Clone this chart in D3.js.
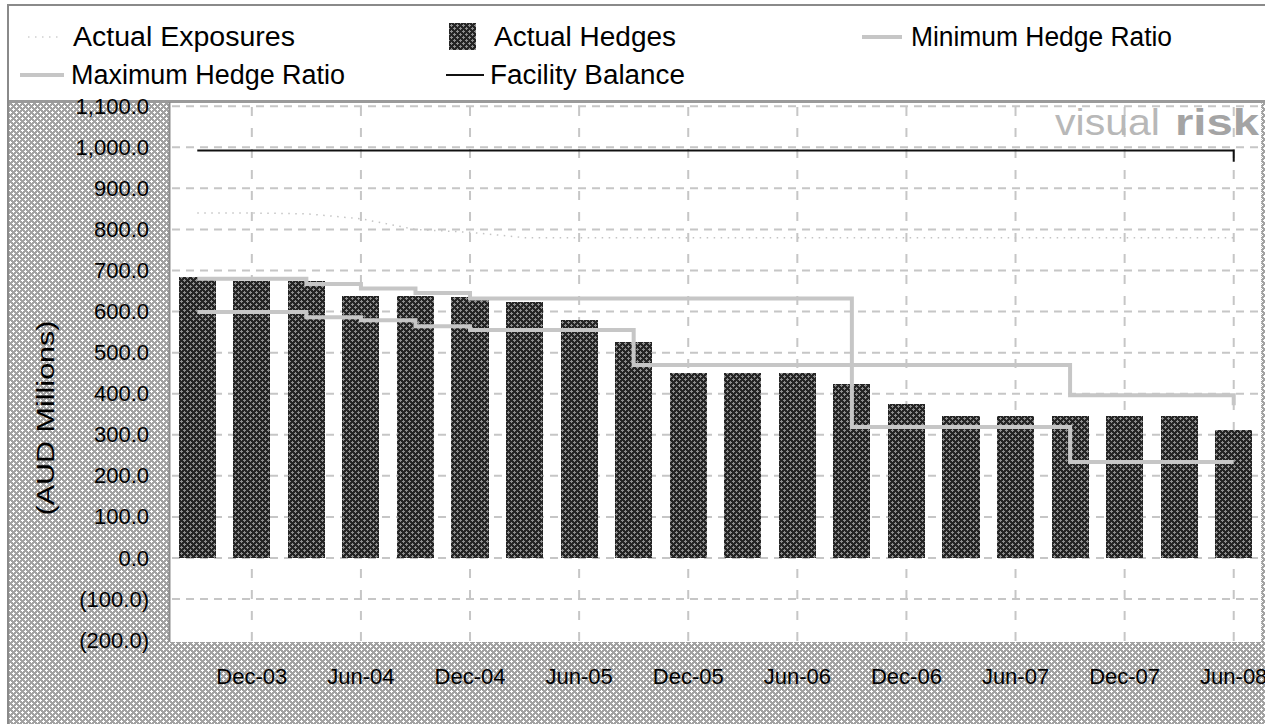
<!DOCTYPE html>
<html>
<head>
<meta charset="utf-8">
<script src="https://cdn.jsdelivr.net/npm/d3@7"></script>
<style>
  html, body { margin: 0; padding: 0; background: #fff; }
  svg { display: block; font-family: "Liberation Sans", Arial, sans-serif; }
</style>
</head>
<body>
<svg id="chart" width="1265" height="724"></svg>
<script>
// Quarterly periods, Sep-03 .. Jun-08
const quarters = ["Sep-03","Dec-03","Mar-04","Jun-04","Sep-04","Dec-04","Mar-05","Jun-05",
  "Sep-05","Dec-05","Mar-06","Jun-06","Sep-06","Dec-06","Mar-07","Jun-07",
  "Sep-07","Dec-07","Mar-08","Jun-08"];

// AUD millions
const actualHedges      = [685, 675, 675, 637, 637, 635, 624, 579, 527, 450, 450, 450, 423, 374, 346, 346, 346, 346, 346, 311];
const actualExposures   = [840, 840, 838, 826, 800, 793, 780, 780, 780, 780, 780, 780, 780, 780, 780, 780, 780, 780, 780, 780];
const maximumHedgeRatio = [680, 680, 667, 656, 645, 632, 632, 632, 632, 632, 632, 632, 319, 319, 319, 319, 234, 234, 234, 234];
const minimumHedgeRatio = [599, 599, 586, 579, 564, 555, 555, 555, 470, 470, 470, 470, 470, 470, 470, 470, 396, 396, 396, 372];
const facilityBalance   = [992, 992, 992, 992, 992, 992, 992, 992, 992, 992, 992, 992, 992, 992, 992, 992, 992, 992, 992, 965];

const yTicks = [-200, -100, 0, 100, 200, 300, 400, 500, 600, 700, 800, 900, 1000, 1100];
const xTickLabels = ["Dec-03","Jun-04","Dec-04","Jun-05","Dec-05","Jun-06","Dec-06","Jun-07","Dec-07","Jun-08"];

const svg = d3.select("#chart");
const W = 1265, H = 724;
const plot = { left: 170, right: 1261, top: 103, bottom: 642 };

// ---- patterns -------------------------------------------------------------
const defs = svg.append("defs");

function crossPattern(id, base, ink) {
  const p = defs.append("pattern").attr("id", id)
    .attr("patternUnits", "userSpaceOnUse").attr("width", 6).attr("height", 6);
  p.append("rect").attr("width", 6).attr("height", 6).attr("fill", base);
  const pts = [[1,0],[0,1],[1,1],[2,1],[1,2],[4,3],[3,4],[4,4],[5,4],[4,5]];
  pts.forEach(([px, py]) => p.append("rect").attr("x", px).attr("y", py)
    .attr("width", 1).attr("height", 1).attr("fill", ink));
}
crossPattern("frameFill", "#a2a2a2", "#ffffff");
crossPattern("barFill", "#252525", "#8e8e8e");

// ---- frame ----------------------------------------------------------------
svg.append("rect").attr("width", W).attr("height", H).attr("fill", "#fff");
svg.append("rect").attr("x", 9).attr("y", 102).attr("width", W - 9).attr("height", H - 102)
  .attr("fill", "url(#frameFill)").attr("shape-rendering", "crispEdges");
svg.append("rect").attr("x", plot.left).attr("y", plot.top)
  .attr("width", plot.right - plot.left).attr("height", plot.bottom - plot.top)
  .attr("fill", "#fff");

svg.append("line").attr("x1", 8).attr("x2", 8).attr("y1", 4).attr("y2", H)
  .attr("stroke", "#8a8a8a").attr("stroke-width", 2);
svg.append("line").attr("x1", 8).attr("x2", W).attr("y1", 5).attr("y2", 5)
  .attr("stroke", "#8a8a8a").attr("stroke-width", 2);
svg.append("line").attr("x1", 9).attr("x2", W).attr("y1", 101.5).attr("y2", 101.5)
  .attr("stroke", "#9a9a9a").attr("stroke-width", 3);
svg.append("line").attr("x1", 169.5).attr("x2", 169.5).attr("y1", 102).attr("y2", plot.bottom)
  .attr("stroke", "#8c8c8c").attr("stroke-width", 2);
svg.append("line").attr("x1", plot.right + 0.5).attr("x2", plot.right + 0.5)
  .attr("y1", plot.top).attr("y2", plot.bottom)
  .attr("stroke", "#c8c8c8").attr("stroke-width", 1).attr("stroke-dasharray", "1,2");

// ---- scales ---------------------------------------------------------------
const y = d3.scaleLinear().domain([0, 1000]).range([558, 147.3]);
const x = d3.scaleBand().domain(quarters).range([plot.left, plot.right])
  .paddingInner(0.32).paddingOuter(0.16);
const cx = q => x(q) + x.bandwidth() / 2;
const tickQuarters = quarters.filter(q => xTickLabels.includes(q));

// ---- grid -----------------------------------------------------------------
const grid = svg.append("g");
grid.selectAll("line.h").data(yTicks.filter(v => v > -200)).join("line")
  .attr("x1", plot.left + 2).attr("x2", plot.right)
  .attr("y1", d => y(d)).attr("y2", d => y(d))
  .attr("stroke", "#c6c6c6").attr("stroke-width", 2).attr("stroke-dasharray", "8,6");
grid.selectAll("line.v").data(tickQuarters).join("line")
  .attr("x1", d => cx(d)).attr("x2", d => cx(d))
  .attr("y1", plot.top + 4).attr("y2", plot.bottom)
  .attr("stroke", "#c6c6c6").attr("stroke-width", 2).attr("stroke-dasharray", "9,12");

// ---- logo -----------------------------------------------------------------
const logo = svg.append("g").attr("font-size", 36);
logo.append("text").attr("x", 1055).attr("y", 135).attr("fill", "#b8b8b8")
  .attr("textLength", 105).attr("lengthAdjust", "spacingAndGlyphs").text("visual");
logo.append("text").attr("x", 1175).attr("y", 135).attr("fill", "#a4a4a4").attr("font-weight", "bold")
  .attr("textLength", 84).attr("lengthAdjust", "spacingAndGlyphs").text("risk");

// ---- bars -----------------------------------------------------------------
svg.append("g").selectAll("rect").data(quarters).join("rect")
  .attr("x", d => x(d)).attr("width", x.bandwidth())
  .attr("y", (d, i) => y(actualHedges[i]))
  .attr("height", (d, i) => y(0) - y(actualHedges[i]))
  .attr("fill", "url(#barFill)").attr("shape-rendering", "crispEdges");

// ---- lines ----------------------------------------------------------------
const stepLine = d3.line().x(d => cx(d.q)).y(d => y(d.v)).curve(d3.curveStepAfter);
const straightLine = d3.line().x(d => cx(d.q)).y(d => y(d.v));
const pairs = arr => quarters.map((q, i) => ({ q, v: arr[i] }));

svg.append("path").attr("d", stepLine(pairs(maximumHedgeRatio)))
  .attr("fill", "none").attr("stroke", "#c6c6c6").attr("stroke-width", 4);
svg.append("path").attr("d", stepLine(pairs(minimumHedgeRatio)))
  .attr("fill", "none").attr("stroke", "#c6c6c6").attr("stroke-width", 4);
svg.append("path").attr("d", stepLine(pairs(facilityBalance)))
  .attr("fill", "none").attr("stroke", "#111").attr("stroke-width", 2);
svg.append("path").attr("d", straightLine(pairs(actualExposures)))
  .attr("fill", "none").attr("stroke", "#c4c4c4").attr("stroke-width", 1.5)
  .attr("stroke-dasharray", "1.5,5.5");

// ---- axes -----------------------------------------------------------------
const fmt = v => v < 0 ? "(" + d3.format(",.1f")(-v) + ")" : d3.format(",.1f")(v);
const yAxis = svg.append("g").attr("transform", "translate(149,0)")
  .call(d3.axisLeft(y).tickValues(yTicks).tickFormat(fmt).tickSize(0).tickPadding(0));
yAxis.select(".domain").remove();
yAxis.attr("font-family", null).attr("font-size", 22);
yAxis.selectAll("text").attr("fill", "#000");

const xAxis = svg.append("g").attr("transform", "translate(0,668)")
  .call(d3.axisBottom(x).tickValues(tickQuarters).tickSize(0).tickPadding(0));
xAxis.select(".domain").remove();
xAxis.attr("font-family", null).attr("font-size", 22);
xAxis.selectAll("text").attr("fill", "#000");

svg.append("text").attr("transform", "translate(46,418) rotate(-90)")
  .attr("text-anchor", "middle").attr("dy", "0.35em").attr("font-size", 23)
  .attr("textLength", 195).attr("lengthAdjust", "spacingAndGlyphs")
  .text("(AUD Millions)");

// ---- legend ---------------------------------------------------------------
const legend = svg.append("g").attr("font-size", 27);
const legendText = [
  { label: "Actual Exposures",    x: 73,  y: 37, w: 222 },
  { label: "Actual Hedges",       x: 494, y: 37, w: 182 },
  { label: "Minimum Hedge Ratio", x: 911, y: 37, w: 261 },
  { label: "Maximum Hedge Ratio", x: 71,  y: 75, w: 274 },
  { label: "Facility Balance",    x: 490, y: 75, w: 195 }
];
legend.selectAll("text").data(legendText).join("text")
  .attr("x", d => d.x).attr("y", d => d.y).attr("dy", "0.35em")
  .attr("textLength", d => d.w).attr("lengthAdjust", "spacingAndGlyphs")
  .text(d => d.label);

legend.append("line").attr("x1", 28).attr("x2", 58).attr("y1", 37).attr("y2", 37)
  .attr("stroke", "#cfcfcf").attr("stroke-width", 1.5).attr("stroke-dasharray", "1.5,5.5");
legend.append("rect").attr("x", 449).attr("y", 23).attr("width", 27).attr("height", 27)
  .attr("fill", "url(#barFill)").attr("shape-rendering", "crispEdges");
legend.append("line").attr("x1", 862).attr("x2", 902).attr("y1", 37).attr("y2", 37)
  .attr("stroke", "#c6c6c6").attr("stroke-width", 4);
legend.append("line").attr("x1", 20).attr("x2", 64).attr("y1", 75).attr("y2", 75)
  .attr("stroke", "#c6c6c6").attr("stroke-width", 4);
legend.append("line").attr("x1", 446).attr("x2", 484).attr("y1", 75).attr("y2", 75)
  .attr("stroke", "#111").attr("stroke-width", 2);
</script>
</body>
</html>
